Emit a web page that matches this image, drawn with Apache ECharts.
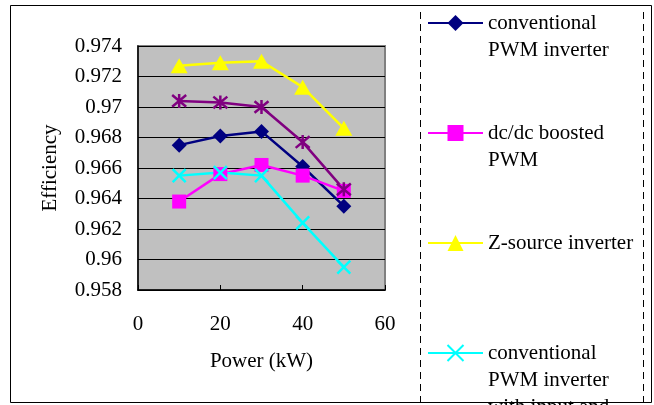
<!DOCTYPE html>
<html>
<head>
<meta charset="utf-8">
<script src="https://cdn.jsdelivr.net/npm/echarts@6/dist/echarts.min.js"></script>
<style>
html,body{margin:0;padding:0;background:#fff;}
#chart{width:654px;height:405px;}
</style>
</head>
<body>
<div id="chart"></div>
<script>
// ---- data ----
const powerKW = [10, 20, 30, 40, 50];
const conventionalPWM = [0.9675, 0.9681, 0.9684, 0.9661, 0.9635];
const dcdcBoostedPWM = [0.9638, 0.9656, 0.9662, 0.9655, 0.9645];
const zSource = [0.9727, 0.9729, 0.9730, 0.9713, 0.9686];
const convPWMFilters = [0.9655, 0.9657, 0.9655, 0.9624, 0.9595];
const fifthSeries = [0.9704, 0.9703, 0.9700, 0.9677, 0.9646];
const seriesNames = [
  'conventional PWM inverter',
  'dc/dc boosted PWM',
  'Z-source inverter',
  'conventional PWM inverter with input and output filters',
  'dc/dc boosted PWM with input and output filters'
];
const legendLines = {
  'conventional PWM inverter': ['conventional', 'PWM inverter'],
  'dc/dc boosted PWM': ['dc/dc boosted', 'PWM'],
  'Z-source inverter': ['Z-source inverter'],
  'conventional PWM inverter with input and output filters': ['conventional', 'PWM inverter', 'with input and', 'output filters']
};
const yTicks = { min: 0.958, max: 0.974, step: 0.002 };
const xTicks = { min: 0, max: 60, step: 20 };

const pair = (vals) => powerKW.map((x, i) => [x, vals[i]]);
const FONT = 'Liberation Serif';
const FS = 21;
const LH = 27;
const xPath = 'path://M0 0L10 10M10 0L0 10';
const starPath = 'path://M0 0L10 10M10 0L0 10M5 -1L5 11';

function mkSeries(name, vals, color, symbol, size, stroke) {
  return {
    type: 'line', name: name, data: pair(vals),
    symbol: symbol, symbolSize: size,
    lineStyle: { color: color, width: 2.5 },
    itemStyle: stroke ? { color: color, borderColor: color, borderWidth: 2.5 } : { color: color, borderWidth: 0 },
    emphasis: { disabled: true }, animation: false
  };
}

function mkLegend(name, iconCenterY) {
  const lines = legendLines[name];
  const n = lines.length * 2 - 1;
  const top = iconCenterY - n * LH / 2;
  return {
    left: 427, top: top, orient: 'vertical', padding: 0,
    itemWidth: 55, itemHeight: 20, itemGap: 0,
    data: [name], selectedMode: false,
    formatter: function (nm) {
      const l = legendLines[nm];
      const pad = new Array(l.length - 1).fill(' ');
      return pad.concat(l).join('\n');
    },
    textStyle: { fontFamily: FONT, fontSize: FS, color: '#000', lineHeight: LH }
  };
}

const chart = echarts.init(document.getElementById('chart'), null, { renderer: 'canvas' });
chart.setOption({
  backgroundColor: '#fff',
  animation: false,
  grid: { left: 138, top: 46, right: 269, bottom: 115, show: true, backgroundColor: '#C0C0C0', borderColor: '#808080', borderWidth: 2 },
  xAxis: {
    type: 'value', min: xTicks.min, max: xTicks.max, interval: xTicks.step,
    name: 'Power (kW)', nameLocation: 'middle', nameGap: 61,
    nameTextStyle: { fontFamily: FONT, fontSize: FS, color: '#000' },
    axisLine: { show: true, lineStyle: { color: '#000', width: 1.5 } },
    axisTick: { show: true, inside: true, length: 5, lineStyle: { color: '#000' } },
    axisLabel: { fontFamily: FONT, fontSize: FS, color: '#000', margin: 24 },
    splitLine: { show: false }
  },
  yAxis: {
    type: 'value', min: yTicks.min, max: yTicks.max, interval: yTicks.step,
    name: 'Efficiency', nameLocation: 'middle', nameGap: 77,
    nameTextStyle: { fontFamily: FONT, fontSize: FS, color: '#000' },
    axisLine: { show: true, lineStyle: { color: '#000', width: 1.5 } },
    axisTick: { show: true, inside: true, length: 5, lineStyle: { color: '#000' } },
    axisLabel: { fontFamily: FONT, fontSize: FS, color: '#000', margin: 16,
      formatter: function (v) { return String(parseFloat(v.toFixed(3))); } },
    splitLine: { show: true, lineStyle: { color: '#000', width: 1 } }
  },
  legend: [
    mkLegend(seriesNames[0], 23),
    mkLegend(seriesNames[1], 133),
    mkLegend(seriesNames[2], 243),
    mkLegend(seriesNames[3], 353)
  ],
  series: [
    mkSeries(seriesNames[0], conventionalPWM, '#000080', 'diamond', 15, false),
    mkSeries(seriesNames[1], dcdcBoostedPWM, '#FF00FF', 'rect', 14, false),
    mkSeries(seriesNames[2], zSource, '#FFFF00', 'triangle', [17, 15], false),
    mkSeries(seriesNames[3], convPWMFilters, '#00FFFF', xPath, 13, true),
    mkSeries(seriesNames[4], fifthSeries, '#800080', starPath, 14, true)
  ],
  graphic: [
    { type: 'rect', silent: true, z: 100, shape: { x: 10.5, y: 5.5, width: 641, height: 397 }, style: { fill: null, stroke: '#000', lineWidth: 1 } },
    { type: 'line', silent: true, z: 100, shape: { x1: 420.5, y1: 12, x2: 420.5, y2: 402 }, style: { stroke: '#000', lineWidth: 1, lineDash: [7, 5] } },
    { type: 'line', silent: true, z: 100, shape: { x1: 643.5, y1: 12, x2: 643.5, y2: 402 }, style: { stroke: '#000', lineWidth: 1, lineDash: [7, 5] } }
  ]
});
</script>
</body>
</html>
